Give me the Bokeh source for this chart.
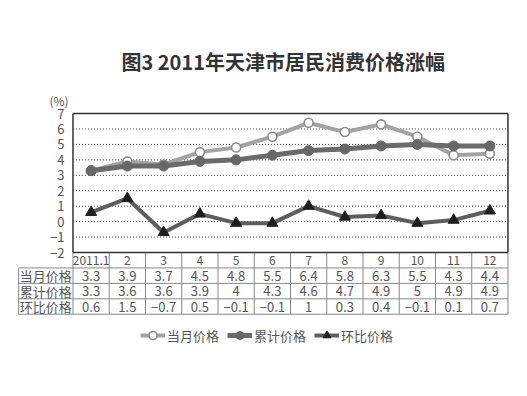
from bokeh.plotting import figure
from bokeh.models import ColumnDataSource, Range1d, Legend, LegendItem
from bokeh.core.properties import value
from bokeh.embed import file_html
from bokeh.resources import INLINE

# ---- data ----
months = ["2011.1", "2", "3", "4", "5", "6", "7", "8", "9", "10", "11", "12"]
monthly = [3.3, 3.9, 3.7, 4.5, 4.8, 5.5, 6.4, 5.8, 6.3, 5.5, 4.3, 4.4]
cumulative = [3.3, 3.6, 3.6, 3.9, 4.0, 4.3, 4.6, 4.7, 4.9, 5.0, 4.9, 4.9]
mom = [0.6, 1.5, -0.7, 0.5, -0.1, -0.1, 1.0, 0.3, 0.4, -0.1, 0.1, 0.7]
series_names = ["当月价格", "累计价格", "环比价格"]
y_ticks = [-2, -1, 0, 1, 2, 3, 4, 5, 6, 7]
title_text = "图3 2011年天津市居民消费价格涨幅"
unit_text = "(%)"

FONT_NAME = "Noto Sans CJK SC"
FONT = value(FONT_NAME)
W, H = 511, 380

p = figure(width=W, height=H, output_backend="svg", toolbar_location=None,
           x_axis_location=None, y_axis_location=None,
           x_range=Range1d(-2.5, 11.597), y_range=Range1d(-10.29, 14.321),
           min_border=0, min_border_left=0, min_border_right=0,
           min_border_top=0, min_border_bottom=0)
p.outline_line_color = None
p.grid.visible = False
p.background_fill_color = "white"

n = len(months)
xs = list(range(n))
ymin, ymax = y_ticks[0], y_ticks[-1]
left, right = -0.5, n - 0.5
label_left = -2.0
nrows = len(series_names)
table_bottom = ymin - 1 - nrows

# ---- grid lines (dotted) ----
inner = [t for t in y_ticks if ymin < t < ymax]
p.segment(x0=[left] * len(inner), x1=[right] * len(inner), y0=inner, y1=inner,
          line_color="#444444", line_width=1, line_dash="1 2")

# ---- table lines ----
hy = [ymin - k for k in range(1, nrows + 2)]
p.segment(x0=[label_left] * len(hy), x1=[right] * len(hy), y0=hy, y1=hy,
          line_color="#888888", line_width=1)
vx = [i + 0.5 for i in range(n - 1)]
p.segment(x0=vx, x1=vx, y0=[ymin] * len(vx), y1=[table_bottom] * len(vx),
          line_color="#888888", line_width=1)
p.segment(x0=[left, right, label_left], x1=[left, right, label_left],
          y0=[ymin, ymin, ymin - 1], y1=[table_bottom] * 3,
          line_color="#888888", line_width=1)

# ---- series ----
src = ColumnDataSource(dict(x=xs, m=monthly, c=cumulative, r=mom))
l1 = p.line("x", "m", source=src, line_color="#a3a3a3", line_width=4)
s1 = p.scatter("x", "m", source=src, marker="circle", size=9,
               fill_color="white", line_color="#8c8c8c", line_width=1.6)
l2 = p.line("x", "c", source=src, line_color="#6b6b6b", line_width=5)
s2 = p.scatter("x", "c", source=src, marker="circle", size=10,
               fill_color="#676767", line_color="#676767")
l3 = p.line("x", "r", source=src, line_color="#5e5e5e", line_width=4)
s3 = p.scatter("x", "r", source=src, marker="triangle", size=11,
               fill_color="#1e1e1e", line_color="#1e1e1e")

# ---- plot border ----
p.segment(x0=[left, left, right, left], x1=[right, left, right, right],
          y0=[ymax, ymin, ymin, ymin], y1=[ymax, ymax, ymax, ymin],
          line_color="#333333", line_width=1.5)

# ---- y tick labels ----
p.text(x=[-0.734] * len(y_ticks), y=y_ticks, text=[("−" + str(-t)) if t < 0 else str(t) for t in y_ticks],
       text_font=FONT, text_font_size="13px", text_color="#555555",
       text_align="right", text_baseline="middle")
p.text(x=[-0.886], y=[7.84], text=[unit_text], text_font=FONT, text_font_size="12px",
       text_color="#555555", text_align="center", text_baseline="middle")

# ---- table text ----
def fmt(v):
    s = ("%g" % abs(v))
    return ("−" + s) if v < 0 else s

p.text(x=xs, y=[ymin - 0.5] * n, text=months, text_font=FONT, text_font_size="12px",
       text_color="#555555", text_align="center", text_baseline="middle")
rows = [monthly, cumulative, mom]
for k, (name, vals) in enumerate(zip(series_names, rows)):
    yc = ymin - 1.5 - k
    p.text(x=[(label_left + left) / 2], y=[yc], text=[name], text_font=FONT,
           text_font_size="13px", text_color="#555555", text_align="center",
           text_baseline="middle")
    p.text(x=xs, y=[yc] * n, text=[fmt(v) for v in vals], text_font=FONT,
           text_font_size="13px", text_color="#555555", text_align="center",
           text_baseline="middle")

# ---- title ----
p.text(x=[(left + right) / 2 - 0.2], y=[10.4], text=[title_text], text_font=FONT,
       text_font_size="20px", text_font_style="bold", text_color="#333333",
       text_align="center", text_baseline="middle")

# ---- legend ----
legend = Legend(items=[LegendItem(label=series_names[0], renderers=[l1, s1]),
                       LegendItem(label=series_names[1], renderers=[l2, s2]),
                       LegendItem(label=series_names[2], renderers=[l3, s3])],
                orientation="horizontal", location=(140, 35),
                glyph_width=25, glyph_height=20, label_standoff=2, spacing=8,
                padding=0, margin=0, border_line_color=None,
                background_fill_alpha=0, label_text_font=FONT_NAME,
                label_text_font_size="13px", label_text_color="#555555",
                label_height=20)
p.add_layout(legend, "center")

open("out.html", "w").write(file_html(p, INLINE))
